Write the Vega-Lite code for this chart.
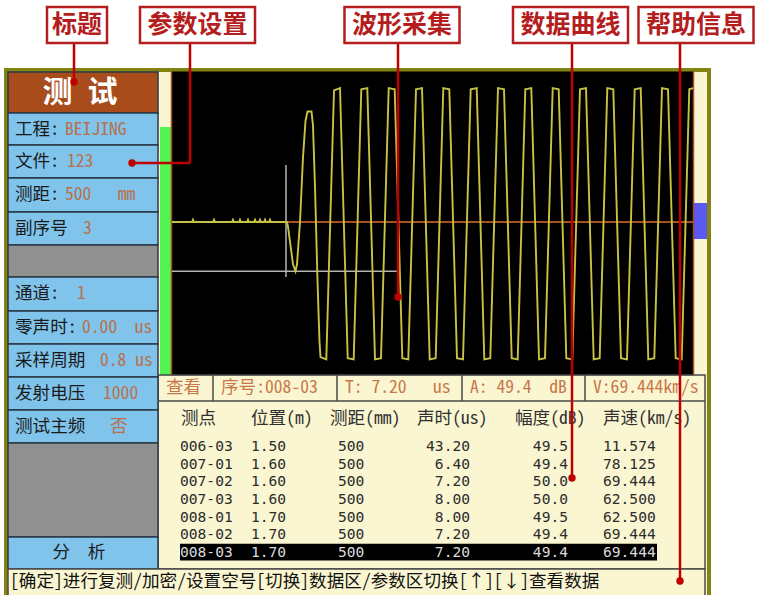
{
"$schema":"https://vega.github.io/schema/vega-lite/v6.json",
"width":757,"height":595,"autosize":"none","padding":0,"background":"#ffffff",
"config":{"view":{"stroke":null},"axis":{"disable":true},"legend":{"disable":true}},
"resolve":{"scale":{"x":"independent","y":"independent","color":"independent"}},
"data":{"values":[{}]},
"datasets":{
"params":[
{"slot":-1,"end":0,"kind":"title","label":"测 试"},
{"slot":0,"end":1,"kind":"field","label":"工程:","value":"BEIJING"},
{"slot":1,"end":2,"kind":"field","label":"文件:","value":"123"},
{"slot":2,"end":3,"kind":"field","label":"测距:","value":"500\u00a0\u00a0\u00a0mm"},
{"slot":3,"end":4,"kind":"field","label":"副序号","value":"3"},
{"slot":4,"end":5,"kind":"blank","label":""},
{"slot":5,"end":6,"kind":"field","label":"通道:","value":"1"},
{"slot":6,"end":7,"kind":"field","label":"零声时:","value":"0.00\u00a0\u00a0us"},
{"slot":7,"end":8,"kind":"field","label":"采样周期","value":"0.8\u00a0us"},
{"slot":8,"end":9,"kind":"field","label":"发射电压","value":"1000"},
{"slot":9,"end":10,"kind":"field","label":"测试主频","value":"否"},
{"slot":10,"end":11,"kind":"blank","label":""},
{"slot":11,"end":12,"kind":"button","label":"分\u3000析"}
],
"status":[
{"i":0,"text":"查看"},
{"i":1,"text":"序号:008-03"},
{"i":2,"text":"T: 7.20\u00a0\u00a0\u00a0us"},
{"i":3,"text":"A: 49.4\u00a0\u00a0dB"},
{"i":4,"text":"V:69.444km/s"}
],
"header":[
{"col":0,"name":"测点"},{"col":1,"name":"位置(m)"},{"col":2,"name":"测距(mm)"},
{"col":3,"name":"声时(us)"},{"col":4,"name":"幅度(dB)"},{"col":5,"name":"声速(km/s)"}
],
"table":[
{"row":0,"pt":"006-03","pos":1.5,"dist":500,"time":43.2,"amp":49.5,"vel":11.574,"sel":"n"},
{"row":1,"pt":"007-01","pos":1.6,"dist":500,"time":6.4,"amp":49.4,"vel":78.125,"sel":"n"},
{"row":2,"pt":"007-02","pos":1.6,"dist":500,"time":7.2,"amp":50.0,"vel":69.444,"sel":"n"},
{"row":3,"pt":"007-03","pos":1.6,"dist":500,"time":8.0,"amp":50.0,"vel":62.5,"sel":"n"},
{"row":4,"pt":"008-01","pos":1.7,"dist":500,"time":8.0,"amp":49.5,"vel":62.5,"sel":"n"},
{"row":5,"pt":"008-02","pos":1.7,"dist":500,"time":7.2,"amp":49.4,"vel":69.444,"sel":"n"},
{"row":6,"pt":"008-03","pos":1.7,"dist":500,"time":7.2,"amp":49.4,"vel":69.444,"sel":"y"}
],
"help":[{"text":"[确定]进行复测/加密/设置空号[切换]数据区/参数区切换[↑][↓]查看数据"}],
"annot":[
{"i":0,"label":"标题"},{"i":1,"label":"参数设置"},{"i":2,"label":"波形采集"},{"i":3,"label":"数据曲线"},{"i":4,"label":"帮助信息"}
],
"wave":[
{"n":0,"a":0},{"n":20,"a":0},{"n":21,"a":2},{"n":22,"a":0},{"n":41,"a":0},{"n":42,"a":2},{"n":43,"a":0},{"n":60,"a":0},{"n":61,"a":2},{"n":62,"a":0},{"n":67,"a":0},{"n":68,"a":2},{"n":69,"a":0},{"n":75,"a":0},{"n":76,"a":2},{"n":77,"a":0},{"n":82,"a":0},{"n":83,"a":2},{"n":84,"a":0},{"n":87,"a":0},{"n":88,"a":2},{"n":89,"a":0},{"n":92,"a":0},{"n":93,"a":2},{"n":94,"a":0},{"n":97,"a":0},{"n":98,"a":2},{"n":99,"a":0},{"n":115,"a":0},
{"n":116,"a":-4},{"n":121,"a":-36},{"n":123.5,"a":-42},{"n":125,"a":-36},{"n":128,"a":0},{"n":131,"a":55},{"n":133.5,"a":86},{"n":135.5,"a":94},{"n":139.5,"a":94},{"n":141,"a":82},{"n":143,"a":30},{"n":145.5,"a":-50},{"n":147.5,"a":-102},{"n":148.5,"a":-115},{"n":154.3,"a":-117},
{"n":162,"a":112},{"n":168,"a":114},{"n":175.7,"a":-116},{"n":181.7,"a":-117},
{"n":189.3,"a":113},{"n":195.3,"a":114},{"n":203,"a":-117},{"n":209,"a":-116},
{"n":216.7,"a":114},{"n":222.7,"a":113},{"n":230.3,"a":-116},{"n":236.3,"a":-117},
{"n":244,"a":113},{"n":250,"a":114},{"n":257.7,"a":-117},{"n":263.7,"a":-116},
{"n":271.3,"a":114},{"n":277.3,"a":113},{"n":285,"a":-116},{"n":291,"a":-117},
{"n":298.7,"a":113},{"n":304.7,"a":114},{"n":312.3,"a":-117},{"n":318.3,"a":-116},
{"n":326,"a":114},{"n":332,"a":113},{"n":339.7,"a":-116},{"n":345.7,"a":-117},
{"n":353.3,"a":113},{"n":359.3,"a":114},{"n":367,"a":-117},{"n":373,"a":-116},
{"n":380.7,"a":114},{"n":386.7,"a":113},{"n":394.3,"a":-116},{"n":400.3,"a":-117},
{"n":408,"a":113},{"n":414,"a":114},{"n":421.7,"a":-117},{"n":427.7,"a":-116},
{"n":435.3,"a":114},{"n":441.3,"a":113},{"n":449,"a":-116},{"n":455,"a":-117},
{"n":462.7,"a":113},{"n":468.7,"a":114},{"n":476.3,"a":-117},{"n":482.3,"a":-116},
{"n":490,"a":114},{"n":496,"a":113},{"n":503.7,"a":-116},{"n":509.7,"a":-117},
{"n":517.3,"a":113},{"n":521,"a":114}
]
},
"layer":[
{"mark":{"type":"rect","color":"#838312"},"encoding":{
"x":{"datum":0,"type":"quantitative","scale":{"type":"linear","domain":[0,1],"range":[4,711],"nice":false,"zero":false}},"x2":{"datum":1},
"y":{"datum":0,"type":"quantitative","scale":{"type":"linear","domain":[0,1],"range":[68,600],"nice":false,"zero":false}},"y2":{"datum":1}}},
{"mark":{"type":"rect","color":"#faf6d2"},"encoding":{
"x":{"datum":0,"type":"quantitative","scale":{"type":"linear","domain":[0,1],"range":[8,707],"nice":false,"zero":false}},"x2":{"datum":1},
"y":{"datum":0,"type":"quantitative","scale":{"type":"linear","domain":[0,1],"range":[72,600],"nice":false,"zero":false}},"y2":{"datum":1}}},

{"mark":{"type":"rect","color":"#000000"},"encoding":{
"x":{"datum":0,"type":"quantitative","scale":{"type":"linear","domain":[0,521],"range":[172,693],"nice":false,"zero":false}},"x2":{"datum":521},
"y":{"datum":-130.5,"type":"quantitative","scale":{"type":"linear","domain":[-128,128],"range":[372.4,71.6],"nice":false,"zero":false}},"y2":{"datum":128}}},
{"mark":{"type":"rect","color":"#52f252"},"encoding":{
"x":{"datum":-12,"type":"quantitative","scale":{"type":"linear","domain":[0,521],"range":[172,693],"nice":false,"zero":false}},"x2":{"datum":-1},
"y":{"datum":-130.5,"type":"quantitative","scale":{"type":"linear","domain":[-128,128],"range":[372.4,71.6],"nice":false,"zero":false}},"y2":{"datum":80.9}}},
{"mark":{"type":"rect","color":"#5a5af2"},"encoding":{
"x":{"datum":521.5,"type":"quantitative","scale":{"type":"linear","domain":[0,521],"range":[172,693],"nice":false,"zero":false}},"x2":{"datum":535},
"y":{"datum":16.2,"type":"quantitative","scale":{"type":"linear","domain":[-128,128],"range":[372.4,71.6],"nice":false,"zero":false}},"y2":{"datum":-14.5}}},
{"mark":{"type":"rule","color":"#a8501c","strokeWidth":1.5},"encoding":{
"x":{"datum":-0.5,"type":"quantitative","scale":{"type":"linear","domain":[0,521],"range":[172,693],"nice":false,"zero":false}},
"y":{"datum":-130.5,"type":"quantitative","scale":{"type":"linear","domain":[-128,128],"range":[372.4,71.6],"nice":false,"zero":false}},"y2":{"datum":128}}},
{"mark":{"type":"rule","color":"#a8501c","strokeWidth":1.5},"encoding":{
"x":{"datum":521.5,"type":"quantitative","scale":{"type":"linear","domain":[0,521],"range":[172,693],"nice":false,"zero":false}},
"y":{"datum":-130.5,"type":"quantitative","scale":{"type":"linear","domain":[-128,128],"range":[372.4,71.6],"nice":false,"zero":false}},"y2":{"datum":128}}},
{"mark":{"type":"rule","color":"#a4521e","strokeWidth":2},"encoding":{
"x":{"datum":0,"type":"quantitative","scale":{"type":"linear","domain":[0,521],"range":[172,693],"nice":false,"zero":false}},"x2":{"datum":521},
"y":{"datum":0,"type":"quantitative","scale":{"type":"linear","domain":[-128,128],"range":[372.4,71.6],"nice":false,"zero":false}}}},
{"mark":{"type":"rule","color":"#b4b4b4","strokeWidth":1.5},"encoding":{
"x":{"datum":114,"type":"quantitative","scale":{"type":"linear","domain":[0,521],"range":[172,693],"nice":false,"zero":false}},
"y":{"datum":48.5,"type":"quantitative","scale":{"type":"linear","domain":[-128,128],"range":[372.4,71.6],"nice":false,"zero":false}},"y2":{"datum":-46.8}}},
{"mark":{"type":"rule","color":"#b4b4b4","strokeWidth":1.5},"encoding":{
"x":{"datum":0,"type":"quantitative","scale":{"type":"linear","domain":[0,521],"range":[172,693],"nice":false,"zero":false}},"x2":{"datum":226},
"y":{"datum":-42,"type":"quantitative","scale":{"type":"linear","domain":[-128,128],"range":[372.4,71.6],"nice":false,"zero":false}}}},
{"data":{"name":"wave"},"mark":{"type":"line","color":"#c8c244","strokeWidth":1.9},"encoding":{
"x":{"field":"n","type":"quantitative","scale":{"type":"linear","domain":[0,521],"range":[172,693],"nice":false,"zero":false}},
"y":{"field":"a","type":"quantitative","scale":{"type":"linear","domain":[-128,128],"range":[372.4,71.6],"nice":false,"zero":false}}}},

{"mark":{"type":"rect","filled":false,"stroke":"#4a4a4a","strokeWidth":1.5},"encoding":{
"x":{"datum":0,"type":"quantitative","scale":{"type":"linear","domain":[0,1],"range":[158,705],"nice":false,"zero":false}},"x2":{"datum":1},
"y":{"datum":0,"type":"quantitative","scale":{"type":"linear","domain":[0,1],"range":[375,569],"nice":false,"zero":false}},"y2":{"datum":1}}},

{"data":{"name":"params"},"mark":{"type":"rect","stroke":"#2a3846","strokeWidth":1.5},"encoding":{
"x":{"datum":0,"type":"quantitative","scale":{"type":"linear","domain":[0,1],"range":[8,158],"nice":false,"zero":false}},"x2":{"datum":1},
"y":{"field":"slot","type":"quantitative","scale":{"type":"linear","domain":[-1,0,1,2,3,4,5,6,7,8,9,10,11,12],"range":[72,113,145,178,212,245,277,311,344,377,410,443,537,569],"nice":false,"zero":false}},"y2":{"field":"end"},
"color":{"field":"kind","type":"nominal","scale":{"domain":["title","field","blank","button"],"range":["#a84c1c","#80c4ec","#909090","#80c4ec"]}}}},
{"data":{"name":"params"},"transform":[{"filter":"datum.kind == 'field'"}],"mark":{"type":"text","font":"'Noto Sans Mono CJK SC', 'DejaVu Sans Mono', monospace","fontSize":17.6,"align":"left","baseline":"middle","dx":7,"dy":16.5,"color":"#1a1a1a"},"encoding":{
"x":{"datum":0,"type":"quantitative","scale":{"type":"linear","domain":[0,1],"range":[8,158],"nice":false,"zero":false}},
"y":{"field":"slot","type":"quantitative","scale":{"type":"linear","domain":[-1,0,1,2,3,4,5,6,7,8,9,10,11,12],"range":[72,113,145,178,212,245,277,311,344,377,410,443,537,569],"nice":false,"zero":false}},
"text":{"field":"label","type":"nominal"}}},
{"data":{"name":"params"},"transform":[{"filter":"datum.kind == 'field'"}],"mark":{"type":"text","font":"'Noto Sans Mono CJK SC', 'DejaVu Sans Mono', monospace","fontSize":17.6,"align":"left","baseline":"middle","dy":16.5,"color":"#b8704c"},"encoding":{
"x":{"field":"slot","type":"quantitative","scale":{"type":"linear","domain":[0,1,2,3,5,6,7,8,9],"range":[65,67,65,83,77,82,100,103,110],"nice":false,"zero":false}},
"y":{"field":"slot","type":"quantitative","scale":{"type":"linear","domain":[-1,0,1,2,3,4,5,6,7,8,9,10,11,12],"range":[72,113,145,178,212,245,277,311,344,377,410,443,537,569],"nice":false,"zero":false}},
"text":{"field":"value","type":"nominal"}}},
{"data":{"name":"params"},"transform":[{"filter":"datum.kind == 'title'"}],"mark":{"type":"text","font":"'Noto Sans Mono CJK SC', 'Noto Sans CJK SC', sans-serif","fontSize":30,"fontWeight":"bold","align":"center","baseline":"middle","dx":-3,"dy":20.5,"color":"#ffffff"},"encoding":{
"x":{"datum":0.5,"type":"quantitative","scale":{"type":"linear","domain":[0,1],"range":[8,158],"nice":false,"zero":false}},
"y":{"field":"slot","type":"quantitative","scale":{"type":"linear","domain":[-1,0,1,2,3,4,5,6,7,8,9,10,11,12],"range":[72,113,145,178,212,245,277,311,344,377,410,443,537,569],"nice":false,"zero":false}},
"text":{"field":"label","type":"nominal"}}},
{"data":{"name":"params"},"transform":[{"filter":"datum.kind == 'button'"}],"mark":{"type":"text","font":"'Noto Sans Mono CJK SC', 'DejaVu Sans Mono', monospace","fontSize":17.6,"align":"center","baseline":"middle","dx":-4,"dy":16,"color":"#1a1a1a"},"encoding":{
"x":{"datum":0.5,"type":"quantitative","scale":{"type":"linear","domain":[0,1],"range":[8,158],"nice":false,"zero":false}},
"y":{"field":"slot","type":"quantitative","scale":{"type":"linear","domain":[-1,0,1,2,3,4,5,6,7,8,9,10,11,12],"range":[72,113,145,178,212,245,277,311,344,377,410,443,537,569],"nice":false,"zero":false}},
"text":{"field":"label","type":"nominal"}}},

{"data":{"name":"status"},"mark":{"type":"text","font":"'Noto Sans Mono CJK SC', 'DejaVu Sans Mono', monospace","fontSize":17.6,"align":"left","baseline":"middle","dx":8,"color":"#c87848"},"encoding":{
"x":{"field":"i","type":"quantitative","scale":{"type":"linear","domain":[0,1,2,3,4,5],"range":[158,213,337,462,585,705],"nice":false,"zero":false}},
"y":{"datum":0.5,"type":"quantitative","scale":{"type":"linear","domain":[0,1],"range":[375,401],"nice":false,"zero":false}},
"text":{"field":"text","type":"nominal"}}},
{"data":{"name":"status"},"transform":[{"filter":"datum.i >= 1"}],"mark":{"type":"rule","color":"#4a4a4a","strokeWidth":1.5},"encoding":{
"x":{"field":"i","type":"quantitative","scale":{"type":"linear","domain":[0,1,2,3,4,5],"range":[158,213,337,462,585,705],"nice":false,"zero":false}},
"y":{"datum":0,"type":"quantitative","scale":{"type":"linear","domain":[0,1],"range":[375,401],"nice":false,"zero":false}},"y2":{"datum":1}}},
{"mark":{"type":"rule","color":"#4a4a4a","strokeWidth":1.5},"encoding":{
"x":{"datum":0,"type":"quantitative","scale":{"type":"linear","domain":[0,1,2,3,4,5],"range":[158,213,337,462,585,705],"nice":false,"zero":false}},"x2":{"datum":5},
"y":{"datum":1,"type":"quantitative","scale":{"type":"linear","domain":[0,1],"range":[375,401],"nice":false,"zero":false}}}},

{"data":{"name":"header"},"mark":{"type":"text","font":"'Noto Sans Mono CJK SC', 'DejaVu Sans Mono', monospace","fontSize":17.6,"align":"left","baseline":"middle","color":"#303030"},"encoding":{
"x":{"field":"col","type":"quantitative","scale":{"type":"linear","domain":[0,1,2,3,4,5],"range":[181,251,330,417,515,603],"nice":false,"zero":false}},
"y":{"datum":0.5,"type":"quantitative","scale":{"type":"linear","domain":[0,1],"range":[405,433],"nice":false,"zero":false}},
"text":{"field":"name","type":"nominal"}}},

{"data":{"name":"table"},"transform":[{"filter":"datum.sel == 'y'"}],"mark":{"type":"rect","color":"#000000"},"encoding":{
"x":{"datum":0,"type":"quantitative","scale":{"type":"linear","domain":[0,1,2,3,4,5,6],"range":[180,251,338,470,568,603,657],"nice":false,"zero":false}},"x2":{"datum":6},
"y":{"datum":5.48,"type":"quantitative","scale":{"type":"linear","domain":[0,6],"range":[447,553],"nice":false,"zero":false}},"y2":{"datum":6.42}}},
{"data":{"name":"table"},"mark":{"type":"text","font":"'DejaVu Sans Mono', monospace","fontSize":14.6,"align":"left","baseline":"middle"},"encoding":{
"x":{"datum":0,"type":"quantitative","scale":{"type":"linear","domain":[0,1,2,3,4,5,6],"range":[180,251,338,470,568,603,657],"nice":false,"zero":false}},
"y":{"field":"row","type":"quantitative","scale":{"type":"linear","domain":[0,6],"range":[447,553],"nice":false,"zero":false}},
"text":{"field":"pt","type":"nominal"},
"color":{"field":"sel","type":"nominal","scale":{"domain":["n","y"],"range":["#2c2c2c","#dadada"]}}}},
{"data":{"name":"table"},"mark":{"type":"text","font":"'DejaVu Sans Mono', monospace","fontSize":14.6,"align":"left","baseline":"middle"},"encoding":{
"x":{"datum":1,"type":"quantitative","scale":{"type":"linear","domain":[0,1,2,3,4,5,6],"range":[180,251,338,470,568,603,657],"nice":false,"zero":false}},
"y":{"field":"row","type":"quantitative","scale":{"type":"linear","domain":[0,6],"range":[447,553],"nice":false,"zero":false}},
"text":{"field":"pos","type":"quantitative","format":".2f"},
"color":{"field":"sel","type":"nominal","scale":{"domain":["n","y"],"range":["#2c2c2c","#dadada"]}}}},
{"data":{"name":"table"},"mark":{"type":"text","font":"'DejaVu Sans Mono', monospace","fontSize":14.6,"align":"left","baseline":"middle"},"encoding":{
"x":{"datum":2,"type":"quantitative","scale":{"type":"linear","domain":[0,1,2,3,4,5,6],"range":[180,251,338,470,568,603,657],"nice":false,"zero":false}},
"y":{"field":"row","type":"quantitative","scale":{"type":"linear","domain":[0,6],"range":[447,553],"nice":false,"zero":false}},
"text":{"field":"dist","type":"quantitative","format":"d"},
"color":{"field":"sel","type":"nominal","scale":{"domain":["n","y"],"range":["#2c2c2c","#dadada"]}}}},
{"data":{"name":"table"},"mark":{"type":"text","font":"'DejaVu Sans Mono', monospace","fontSize":14.6,"align":"right","baseline":"middle"},"encoding":{
"x":{"datum":3,"type":"quantitative","scale":{"type":"linear","domain":[0,1,2,3,4,5,6],"range":[180,251,338,470,568,603,657],"nice":false,"zero":false}},
"y":{"field":"row","type":"quantitative","scale":{"type":"linear","domain":[0,6],"range":[447,553],"nice":false,"zero":false}},
"text":{"field":"time","type":"quantitative","format":".2f"},
"color":{"field":"sel","type":"nominal","scale":{"domain":["n","y"],"range":["#2c2c2c","#dadada"]}}}},
{"data":{"name":"table"},"mark":{"type":"text","font":"'DejaVu Sans Mono', monospace","fontSize":14.6,"align":"right","baseline":"middle"},"encoding":{
"x":{"datum":4,"type":"quantitative","scale":{"type":"linear","domain":[0,1,2,3,4,5,6],"range":[180,251,338,470,568,603,657],"nice":false,"zero":false}},
"y":{"field":"row","type":"quantitative","scale":{"type":"linear","domain":[0,6],"range":[447,553],"nice":false,"zero":false}},
"text":{"field":"amp","type":"quantitative","format":".1f"},
"color":{"field":"sel","type":"nominal","scale":{"domain":["n","y"],"range":["#2c2c2c","#dadada"]}}}},
{"data":{"name":"table"},"mark":{"type":"text","font":"'DejaVu Sans Mono', monospace","fontSize":14.6,"align":"left","baseline":"middle"},"encoding":{
"x":{"datum":5,"type":"quantitative","scale":{"type":"linear","domain":[0,1,2,3,4,5,6],"range":[180,251,338,470,568,603,657],"nice":false,"zero":false}},
"y":{"field":"row","type":"quantitative","scale":{"type":"linear","domain":[0,6],"range":[447,553],"nice":false,"zero":false}},
"text":{"field":"vel","type":"quantitative","format":".3f"},
"color":{"field":"sel","type":"nominal","scale":{"domain":["n","y"],"range":["#2c2c2c","#dadada"]}}}},

{"mark":{"type":"rect","fill":"#faf6d2","stroke":"#4a4a4a","strokeWidth":1.5},"encoding":{
"x":{"datum":0,"type":"quantitative","scale":{"type":"linear","domain":[0,1],"range":[8,705],"nice":false,"zero":false}},"x2":{"datum":1},
"y":{"datum":0,"type":"quantitative","scale":{"type":"linear","domain":[0,1],"range":[569,595],"nice":false,"zero":false}},"y2":{"datum":1.3}}},
{"data":{"name":"help"},"mark":{"type":"text","font":"'Noto Sans Mono CJK SC', 'DejaVu Sans Mono', monospace","fontSize":17.6,"align":"left","baseline":"middle","dx":2,"color":"#101010"},"encoding":{
"x":{"datum":0,"type":"quantitative","scale":{"type":"linear","domain":[0,1],"range":[8,705],"nice":false,"zero":false}},
"y":{"datum":0.5,"type":"quantitative","scale":{"type":"linear","domain":[0,1],"range":[569,595],"nice":false,"zero":false}},
"text":{"field":"text","type":"nominal"}}},

{"data":{"name":"annot"},"mark":{"type":"rule","color":"#c00000","strokeWidth":2.5},"encoding":{
"x":{"field":"i","type":"quantitative","scale":{"type":"linear","domain":[-1,0,1,2,3,4],"range":[132,74,190,398,572,680],"nice":false,"zero":false}},
"y":{"field":"i","type":"quantitative","scale":{"type":"linear","domain":[-1,0,1,2,3,4],"range":[43,82,163,297,478,581],"nice":false,"zero":false}},"y2":{"datum":-1}}},
{"data":{"name":"annot"},"transform":[{"filter":"datum.i == 1"}],"mark":{"type":"rule","color":"#c00000","strokeWidth":2.5},"encoding":{
"x":{"field":"i","type":"quantitative","scale":{"type":"linear","domain":[-1,0,1,2,3,4],"range":[132,74,190,398,572,680],"nice":false,"zero":false}},"x2":{"datum":-1},
"y":{"field":"i","type":"quantitative","scale":{"type":"linear","domain":[-1,0,1,2,3,4],"range":[43,82,163,297,478,581],"nice":false,"zero":false}}}},
{"data":{"name":"annot"},"transform":[{"filter":"datum.i != 1"}],"mark":{"type":"point","filled":true,"shape":"circle","size":55,"color":"#c00000","opacity":1},"encoding":{
"x":{"field":"i","type":"quantitative","scale":{"type":"linear","domain":[-1,0,1,2,3,4],"range":[132,74,190,398,572,680],"nice":false,"zero":false}},
"y":{"field":"i","type":"quantitative","scale":{"type":"linear","domain":[-1,0,1,2,3,4],"range":[43,82,163,297,478,581],"nice":false,"zero":false}}}},
{"data":{"name":"annot"},"transform":[{"filter":"datum.i == 1"}],"mark":{"type":"point","filled":true,"shape":"circle","size":55,"color":"#c00000","opacity":1},"encoding":{
"x":{"datum":-1,"type":"quantitative","scale":{"type":"linear","domain":[-1,0,1,2,3,4],"range":[132,74,190,398,572,680],"nice":false,"zero":false}},
"y":{"field":"i","type":"quantitative","scale":{"type":"linear","domain":[-1,0,1,2,3,4],"range":[43,82,163,297,478,581],"nice":false,"zero":false}}}},
{"data":{"name":"annot"},"transform":[{"filter":"datum.i == 0"}],"mark":{"type":"rect","width":60,"fill":"#ffffff","stroke":"#b41e1e","strokeWidth":2.5},"encoding":{
"x":{"field":"i","type":"quantitative","scale":{"type":"linear","domain":[0,1,2,3,4],"range":[77,197.5,402,570.5,696],"nice":false,"zero":false}},
"y":{"datum":0,"type":"quantitative","scale":{"type":"linear","domain":[0,1],"range":[7,43],"nice":false,"zero":false}},"y2":{"datum":1}}},
{"data":{"name":"annot"},"transform":[{"filter":"datum.i > 0"}],"mark":{"type":"rect","width":115,"fill":"#ffffff","stroke":"#b41e1e","strokeWidth":2.5},"encoding":{
"x":{"field":"i","type":"quantitative","scale":{"type":"linear","domain":[0,1,2,3,4],"range":[77,197.5,402,570.5,696],"nice":false,"zero":false}},
"y":{"datum":0,"type":"quantitative","scale":{"type":"linear","domain":[0,1],"range":[7,43],"nice":false,"zero":false}},"y2":{"datum":1}}},
{"data":{"name":"annot"},"mark":{"type":"text","font":"'Noto Sans CJK SC', sans-serif","fontSize":25,"fontWeight":"bold","align":"center","baseline":"middle","color":"#b41e1e"},"encoding":{
"x":{"field":"i","type":"quantitative","scale":{"type":"linear","domain":[0,1,2,3,4],"range":[77,197.5,402,570.5,696],"nice":false,"zero":false}},
"y":{"datum":0.5,"type":"quantitative","scale":{"type":"linear","domain":[0,1],"range":[7,43],"nice":false,"zero":false}},
"text":{"field":"label","type":"nominal"}}}
]
}
